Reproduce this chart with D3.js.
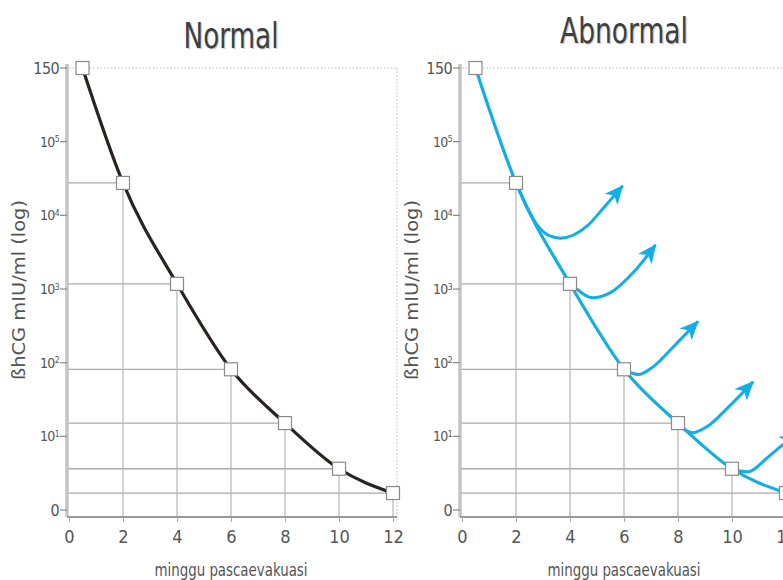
<!DOCTYPE html>
<html>
<head>
<meta charset="utf-8">
<script src="https://cdn.jsdelivr.net/npm/d3@7"></script>
<style>
	body { margin: 0; background: #fff; }
	svg text { font-family: "Liberation Sans Narrow", "DejaVu Sans Condensed", "Roboto Condensed", sans-serif; fill: #555; }
</style>
</head>
<body>
<svg id="chart" width="783" height="580"></svg>
<script>
// hCG regression, weeks after evacuation vs log level (0 = "0", 6 = "150" top of scale)
var weeks = [0.5, 2, 4, 6, 8, 10, 12];
var levels = [6, 4.44, 3.07, 1.91, 1.18, 0.56, 0.23];

var xTicks = [0, 2, 4, 6, 8, 10, 12];
var yTicks = [0, 1, 2, 3, 4, 5, 6];
var yTickBase = ["0", "10", "10", "10", "10", "10", "150"];
var yTickExp = ["", "1", "2", "3", "4", "5", ""];

var titles = ["Normal", "Abnormal"];
var xLabel = "minggu pascaevakuasi";
var yLabel = "ßhCG mIU/ml (log)";

// abnormal rebounds, [week, level]
var rise1 = [[2, 4.44], [2.8, 3.86], [3.25, 3.72], [3.64, 3.69], [4.65, 3.86], [5.24, 4.1], [5.95, 4.4]];
var rise2 = [[4.25, 3.0], [4.83, 2.88], [5.5, 2.95], [6.36, 3.23], [7.17, 3.6]];
var rise3 = [[6.2, 1.87], [6.55, 1.84], [7.1, 1.95], [7.84, 2.22], [8.74, 2.56]];
var rise4 = [[8.2, 1.1], [8.55, 1.05], [9.11, 1.14], [9.85, 1.39], [10.78, 1.74]];
var rise5 = [[10.15, 0.54], [10.59, 0.52], [11.34, 0.72], [11.9, 0.89], [12.45, 1.02]];
var rises = [rise1, rise2, rise3, rise4, rise5];

var svg = d3.select("#chart");

var defs = svg.append("defs");
defs.append("marker")
	.attr("id", "head")
	.attr("markerUnits", "userSpaceOnUse")
	.attr("viewBox", "0 0 18 16")
	.attr("markerWidth", 19)
	.attr("markerHeight", 17)
	.attr("refX", 17)
	.attr("refY", 8)
	.attr("orient", "auto")
	.append("path")
		.attr("d", "M0,0 L18,8 L0,16 L5,8 Z")
		.attr("fill", "#12aee6");

function drawPanel(x0, title, color, withRises, titleY, titleLen) {
	var xScale = d3.scaleLinear().domain([0, 12]).range([x0, x0 + 324]);
	var yScale = d3.scaleLinear().domain([0, 6]).range([510, 68]);
	var axisY = yScale(0) + 7;

	var g = svg.append("g");

	[["#cfcfcf", 1.2], ["#3f3f3f", 0]].forEach(function(s) {
		g.append("text")
			.attr("x", xScale(6) + s[1])
			.attr("y", titleY + s[1])
			.attr("text-anchor", "middle")
			.attr("textLength", titleLen)
			.attr("lengthAdjust", "spacingAndGlyphs")
			.style("font-size", "36px")
			.style("fill", s[0])
			.text(title);
	});

	// dotted frame at top and right
	g.append("line")
		.attr("x1", xScale(0)).attr("x2", xScale(12) + 4)
		.attr("y1", yScale(6)).attr("y2", yScale(6))
		.attr("stroke", "#bbb").attr("stroke-dasharray", "1.5,2");
	g.append("line")
		.attr("x1", xScale(12) + 4).attr("x2", xScale(12) + 4)
		.attr("y1", yScale(6)).attr("y2", axisY)
		.attr("stroke", "#bbb").attr("stroke-dasharray", "1.5,2");

	// guide lines from each point back to the axes
	var pts = d3.range(1, weeks.length);
	g.selectAll(".hguide").data(pts).enter().append("line")
		.attr("x1", xScale(0) - 2)
		.attr("x2", function(i) { return xScale(weeks[i]); })
		.attr("y1", function(i) { return yScale(levels[i]); })
		.attr("y2", function(i) { return yScale(levels[i]); })
		.attr("stroke", "#aaa").attr("stroke-width", 1.3);
	g.selectAll(".vguide").data(pts).enter().append("line")
		.attr("x1", function(i) { return xScale(weeks[i]); })
		.attr("x2", function(i) { return xScale(weeks[i]); })
		.attr("y1", axisY)
		.attr("y2", function(i) { return yScale(levels[i]); })
		.attr("stroke", "#bbb").attr("stroke-width", 1.3);

	// y axis
	g.append("line")
		.attr("x1", xScale(0) - 2).attr("x2", xScale(0) - 2)
		.attr("y1", yScale(6) - 4).attr("y2", axisY)
		.attr("stroke", "#c4c4c4").attr("stroke-width", 3.5);
	var yt = g.selectAll(".ytick").data(yTicks).enter().append("g")
		.attr("transform", function(d) { return "translate(" + (xScale(0) - 2) + "," + yScale(d) + ")"; });
	yt.append("line").attr("x1", -7).attr("x2", 0).attr("stroke", "#888").attr("stroke-width", 1.2);
	var ytext = yt.append("text")
		.attr("x", -8)
		.attr("dy", "0.35em")
		.attr("text-anchor", "end")
		.style("font-size", function(d, i) { return yTickExp[i] ? "14px" : "16px"; })
		.style("letter-spacing", "-0.6px");
	ytext.append("tspan").text(function(d, i) { return yTickBase[i]; });
	ytext.append("tspan")
		.attr("dy", "-0.5em")
		.style("font-size", "8.5px")
		.text(function(d, i) { return yTickExp[i]; });

	g.append("text")
		.attr("transform", "translate(" + (x0 - 44) + "," + 290 + ") rotate(-90)")
		.attr("text-anchor", "middle")
		.attr("textLength", 180)
		.attr("lengthAdjust", "spacingAndGlyphs")
		.style("font-size", "18px")
		.text(yLabel);

	// x axis
	g.append("line")
		.attr("x1", xScale(0) - 2).attr("x2", xScale(12) + 4)
		.attr("y1", axisY).attr("y2", axisY)
		.attr("stroke", "#999").attr("stroke-width", 2);
	var xAxis = d3.axisBottom(xScale).tickValues(xTicks).tickSize(5).tickPadding(8);
	var xa = g.append("g").attr("transform", "translate(0," + axisY + ")").call(xAxis);
	xa.select(".domain").remove();
	xa.selectAll(".tick line").attr("stroke", "#aaa");
	xa.selectAll(".tick text")
		.attr("font-family", null)
		.attr("font-size", null)
		.style("font-size", "18px")
		.style("fill", "#555");

	g.append("text")
		.attr("x", xScale(6))
		.attr("y", 576)
		.attr("text-anchor", "middle")
		.attr("textLength", 153)
		.attr("lengthAdjust", "spacingAndGlyphs")
		.style("font-size", "17px")
		.text(xLabel);

	var line = d3.line()
		.x(function(d) { return xScale(d[0]); })
		.y(function(d) { return yScale(d[1]); });

	if (withRises) {
		var riseLine = d3.line()
			.x(function(d) { return xScale(d[0]); })
			.y(function(d) { return yScale(d[1]); })
			.curve(d3.curveMonotoneX);
		g.selectAll(".rise").data(rises).enter().append("path")
			.attr("d", riseLine)
			.attr("fill", "none")
			.attr("stroke", color)
			.attr("stroke-width", 3)
			.attr("marker-end", "url(#head)");
	}

	var curvePts = d3.zip(weeks, levels);
	g.append("path")
		.attr("d", line.curve(d3.curveMonotoneX)(curvePts))
		.attr("fill", "none")
		.attr("stroke", color)
		.attr("stroke-width", 3.2);

	g.selectAll(".pt").data(curvePts).enter().append("rect")
		.attr("x", function(d) { return xScale(d[0]) - 6.5; })
		.attr("y", function(d) { return yScale(d[1]) - 6.5; })
		.attr("width", 13)
		.attr("height", 13)
		.attr("fill", "#fff")
		.attr("stroke", "#8a8a8a")
		.attr("stroke-width", 1.2);
}

drawPanel(69, titles[0], "#2b2222", false, 48, 95);
drawPanel(462, titles[1], "#12aee6", true, 43, 128);
</script>
</body>
</html>
